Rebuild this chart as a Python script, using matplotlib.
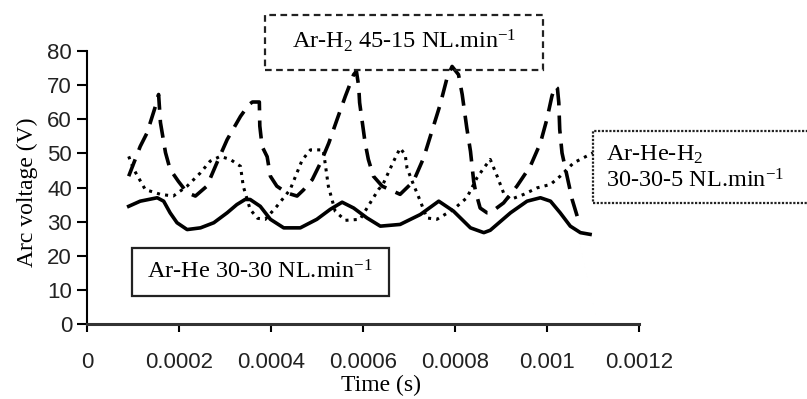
import matplotlib
matplotlib.use('Agg')
import matplotlib.pyplot as plt
from matplotlib.patches import Rectangle

# time in units of 1e-4 s, voltage in V
t_he = [0.90, 1.15, 1.52, 1.66, 1.80, 1.95, 2.17, 2.46, 2.75, 3.04, 3.25, 3.43, 3.54,
        3.76, 3.98, 4.27, 4.63, 4.99, 5.28, 5.54, 5.79, 6.08, 6.37, 6.80, 7.24, 7.64,
        7.96, 8.33, 8.62, 8.76, 9.20, 9.56, 9.85, 10.07, 10.28, 10.50, 10.72, 10.93]
v_he = [34.5, 36, 37, 36, 32.6, 29.7, 27.7, 28.2, 29.7, 32.6, 35, 36.5, 36.5,
        34.5, 30.7, 28.2, 28.2, 30.7, 33.6, 35.7, 34, 31.1, 28.7, 29.2, 32.1, 36,
        33.1, 28.2, 26.8, 27.5, 32.6, 36, 37, 36, 32.6, 28.7, 26.8, 26.3]

t_h2 = [0.90, 1.15, 1.30, 1.48, 1.55, 1.59, 1.70, 1.80, 1.98, 2.17, 2.35, 2.60, 2.82,
        3.04, 3.33, 3.51, 3.59, 3.74, 3.75, 3.80, 3.91, 3.98, 4.12, 4.34, 4.56, 4.70,
        4.89, 5.07, 5.25, 5.43, 5.61, 5.79, 5.85, 5.90, 5.92, 5.97, 6.04, 6.11, 6.22,
        6.41, 6.80, 7.09, 7.31, 7.49, 7.67, 7.82, 7.93, 8.07, 8.15, 8.25, 8.33, 8.40,
        8.44, 8.54, 8.69, 8.76, 9.05, 9.34, 9.63, 9.85, 9.99, 10.10, 10.17, 10.22,
        10.25, 10.27, 10.32, 10.43, 10.54, 10.65, 10.79]
v_h2 = [43.3, 52, 56, 63.7, 67.2, 59, 50.2, 45.3, 41.8, 38.5, 37.5, 40.4, 47.3,
        54, 60.8, 64.2, 65, 65, 58, 52, 49, 43.3, 40.4, 38.4, 37.5, 39.3,
        42.3, 47.2, 53, 59.9, 66.7, 73, 74, 69.6, 64.8, 59.9, 53, 48.2, 43.3,
        40.4, 38, 41.8, 48.6, 56.4, 64.2, 72, 75.4, 73, 67.2, 57.4, 50.6, 41.8,
        38.9, 34, 32.6, 32.6, 35.5, 40.4, 46.2, 53, 59.9, 66.7, 69.6, 69,
        64.8, 57, 50.1, 43.3, 36.5, 31.6, 29.7]

t_heh2 = [0.90, 1.01, 1.15, 1.26, 1.59, 1.87, 2.17, 2.46, 2.67, 2.89, 3.11, 3.33, 3.39,
          3.54, 3.70, 3.87, 4.12, 4.41, 4.67, 4.85, 5.13, 5.24, 5.39, 5.61, 5.93, 6.15,
          6.33, 6.43, 6.66, 6.80, 6.91, 6.95, 7.09, 7.24, 7.38, 7.60, 7.96, 8.25, 8.47,
          8.62, 8.76, 8.91, 9.05, 9.20, 9.49, 9.78, 10.07, 10.28, 10.57, 10.99]
v_heh2 = [49.1, 45.3, 42, 39.4, 38, 37.5, 40.4, 44.3, 47.7, 49.1, 48.2, 46.2, 40.4,
          33.6, 31, 30.7, 34.5, 39.4, 48, 51, 51, 40.4, 33, 30.4, 30.7, 35.5,
          39.4, 41, 47.7, 51.5, 49.6, 45.7, 40.9, 36, 31.1, 30.7, 33.6, 37, 42.8,
          45.7, 48.2, 43.3, 38.4, 36.5, 38, 39.9, 40.9, 43.3, 47.2, 50.1]

xticks = [0, 0.0002, 0.0004, 0.0006, 0.0008, 0.001, 0.0012]
xlabels = ['0', '0.0002', '0.0004', '0.0006', '0.0008', '0.001', '0.0012']
yticks = [0, 10, 20, 30, 40, 50, 60, 70, 80]

lab_h2 = 'Ar-H$_2$ 45-15 NL.min$^{-1}$'
lab_he = 'Ar-He 30-30 NL.min$^{-1}$'
lab_heh2_1 = 'Ar-He-H$_2$'
lab_heh2_2 = '30-30-5 NL.min$^{-1}$'

plt.rcParams['mathtext.fontset'] = 'custom'
plt.rcParams['mathtext.rm'] = 'Liberation Serif'
plt.rcParams['mathtext.it'] = 'Liberation Serif'
plt.rcParams['mathtext.default'] = 'rm'

W, H = 807, 399
fig = plt.figure(figsize=(W / 100, H / 100), dpi=100)
ax = fig.add_axes([87.3 / W, 1 - 324.3 / H, (639.3 - 87.3) / W, (324.3 - 50.7) / H])

sc = 1e-4
ax.plot([t * sc for t in t_he], v_he, color='black', lw=2.6)
ax.plot([t * sc for t in t_h2], v_h2, color='black', lw=2.6, linestyle=(0, (5, 2.8)))
ax.plot([t * sc for t in t_heh2], v_heh2, color='black', lw=2.2, linestyle=(0, (1, 1.7)))

ax.set_xlim(0, 0.0012)
ax.set_ylim(0, 80)
ax.set_xticks(xticks)
ax.set_xticklabels(xlabels)
ax.set_yticks(yticks)
for s in ['top', 'right']:
    ax.spines[s].set_visible(False)
ax.spines['left'].set_linewidth(1.5)
ax.spines['bottom'].set_linewidth(2.2)
ax.spines['bottom'].set_color('#333333')
ax.tick_params(axis='x', direction='out', length=6, width=1.5, pad=14)
ax.tick_params(axis='y', direction='out', length=7, width=1.5, pad=4)
for lb in ax.get_xticklabels() + ax.get_yticklabels():
    lb.set_family('Liberation Sans')
    lb.set_fontsize(16)
    lb.set_color('#222222')

fig.text(381 / W, 1 - 385 / H, 'Time (s)', family='Liberation Serif', fontsize=17,
         ha='center', va='center')
fig.text(27 / W, 1 - 192 / H, 'Arc voltage (V)', family='Liberation Serif', fontsize=17,
         ha='center', va='center', rotation=90)


def box(x0, y0, x1, y1, ls):
    fig.patches.append(Rectangle((x0 / W, 1 - y1 / H), (x1 - x0) / W, (y1 - y0) / H,
                                 transform=fig.transFigure, fill=False, lw=1.6,
                                 ls=ls, edgecolor='#222222'))


box(265, 15, 543, 70, (0, (3, 2)))
box(132, 248, 389, 296, '-')
box(593, 131, 812, 203, (0, (1, 0.7)))

fig.text(404 / W, 1 - 41 / H, lab_h2, family='Liberation Serif', fontsize=17.5,
         ha='center', va='center')
fig.text(260 / W, 1 - 272 / H, lab_he, family='Liberation Serif', fontsize=17.5,
         ha='center', va='center')
fig.text(606 / W, 1 - 155 / H, lab_heh2_1, family='Liberation Serif', fontsize=17.5,
         ha='left', va='center')
fig.text(606 / W, 1 - 181 / H, lab_heh2_2, family='Liberation Serif', fontsize=17.5,
         ha='left', va='center')

fig.savefig('out.png', dpi=100)
